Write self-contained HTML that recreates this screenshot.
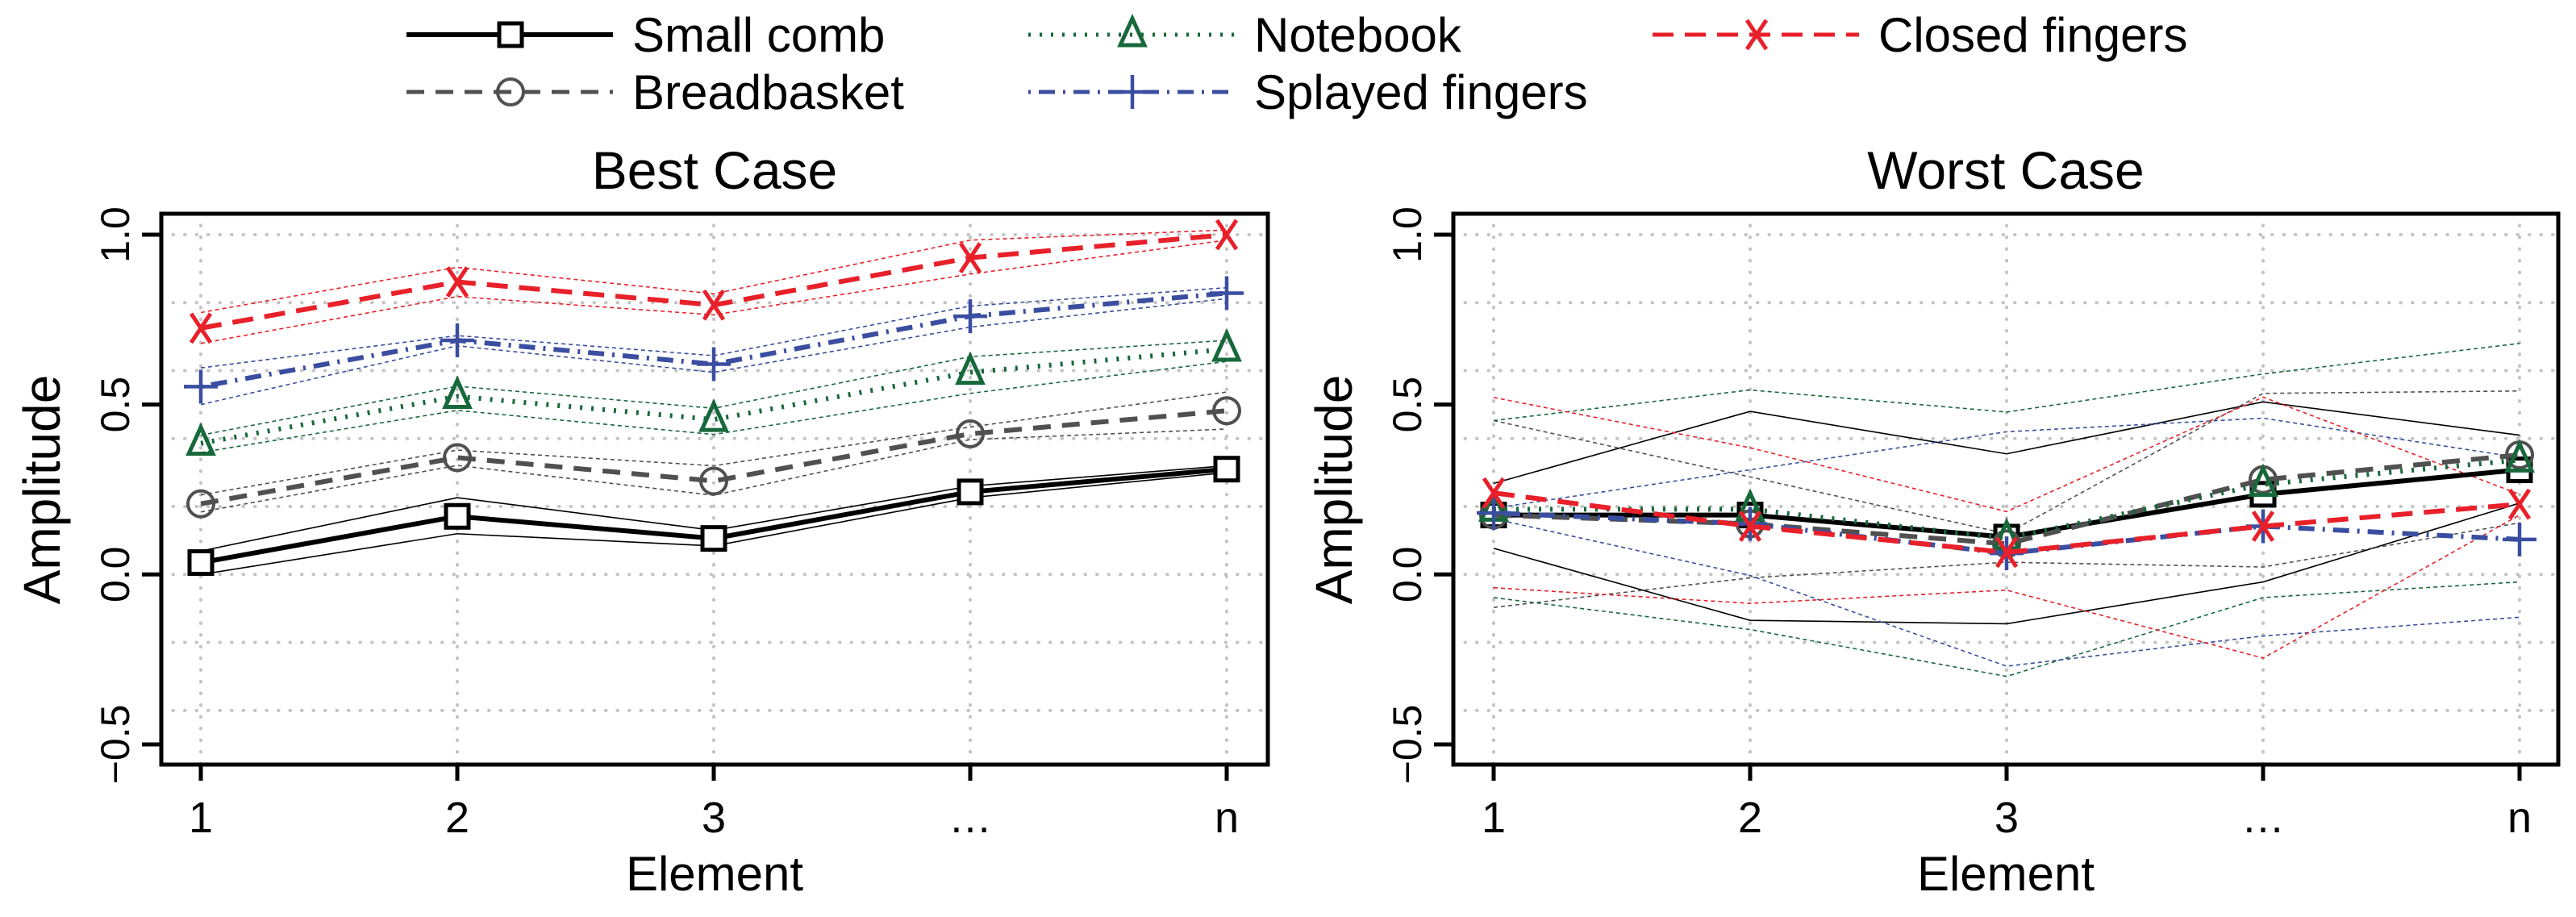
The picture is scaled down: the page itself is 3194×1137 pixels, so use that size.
<!DOCTYPE html>
<html><head><meta charset="utf-8"><style>
html,body{margin:0;padding:0;background:#fff;}
svg{display:block;font-family:"Liberation Sans",Arial,sans-serif;}
</style></head><body>
<svg id="chart" width="3194" height="1137" viewBox="0 0 3194 1137" xmlns="http://www.w3.org/2000/svg">
<g id="legend"></g>
<g id="panelBest"></g>
<g id="panelWorst"></g>
</svg>
<script>
const categories = ["1","2","3","…","n"];
const yTicks = [-0.5, 0.0, 0.5, 1.0];
const yTickLabels = ["\u22120.5","0.0","0.5","1.0"];
const gridValues = [-0.4,-0.2,0,0.2,0.4,0.6,0.8,1.0];
const seriesNames = ["Small comb","Breadbasket","Notebook","Splayed fingers","Closed fingers"];
// Best case
const bestSmall = [0.035,0.171,0.106,0.243,0.31];
const bestSmallHi = [0.069,0.226,0.130,0.26,0.32];
const bestSmallLo = [0.0,0.12,0.084,0.226,0.30];
const bestBread = [0.208,0.344,0.275,0.414,0.482];
const bestBreadHi = [0.234,0.366,0.32,0.434,0.537];
const bestBreadLo = [0.184,0.321,0.233,0.397,0.428];
const bestNote = [0.386,0.524,0.456,0.595,0.663];
const bestNoteHi = [0.41,0.554,0.489,0.641,0.689];
const bestNoteLo = [0.359,0.483,0.412,0.533,0.627];
const bestSplay = [0.553,0.689,0.619,0.76,0.828];
const bestSplayHi = [0.608,0.703,0.644,0.79,0.844];
const bestSplayLo = [0.5,0.673,0.595,0.728,0.812];
const bestClosed = [0.725,0.861,0.793,0.932,1.0];
const bestClosedHi = [0.771,0.904,0.826,0.984,1.014];
const bestClosedLo = [0.68,0.818,0.764,0.884,0.984];
// Worst case
const worstSmall = [0.175,0.175,0.11,0.236,0.308];
const worstSmallHi = [0.268,0.48,0.355,0.508,0.41];
const worstSmallLo = [0.077,-0.135,-0.145,-0.022,0.21];
const worstBread = [0.175,0.149,0.09,0.279,0.352];
const worstBreadHi = [0.453,0.287,0.12,0.533,0.54];
const worstBreadLo = [-0.097,-0.01,0.036,0.022,0.152];
const worstNote = [0.192,0.192,0.106,0.265,0.337];
const worstNoteHi = [0.453,0.543,0.478,0.59,0.68];
const worstNoteLo = [-0.068,-0.162,-0.3,-0.068,-0.022];
const worstSplay = [0.181,0.149,0.062,0.142,0.103];
const worstSplayHi = [0.195,0.308,0.42,0.46,0.344];
const worstSplayLo = [0.164,-0.003,-0.27,-0.181,-0.126];
const worstClosed = [0.24,0.142,0.065,0.142,0.207];
const worstClosedHi = [0.521,0.373,0.185,0.522,0.236];
const worstClosedLo = [-0.039,-0.085,-0.046,-0.246,0.175];

const NS="http://www.w3.org/2000/svg";
const styles=[
 {color:"#000000",dash:"",marker:"square",key:"small-comb"},
 {color:"#505050",dash:"22,14",marker:"circle",key:"breadbasket"},
 {color:"#17683a",dash:"3,11",marker:"triangle",key:"notebook"},
 {color:"#3a4ea0",dash:"3,10,20,10",marker:"plus",key:"splayed-fingers"},
 {color:"#e8202a",dash:"26,14",marker:"cross",key:"closed-fingers"}];
function mk(tag,attrs,parent){const e=document.createElementNS(NS,tag);for(const k in attrs)e.setAttribute(k,attrs[k]);parent.appendChild(e);return e;}
function drawMarker(g,type,x,y,color,name){
 let m;const s=14;
 if(type==="square") m=mk("rect",{x:x-s,y:y-s,width:2*s,height:2*s,fill:"#fff","stroke":color,"stroke-width":5},g);
 else if(type==="circle") m=mk("circle",{cx:x,cy:y,r:s+2,fill:"none",stroke:color,"stroke-width":4},g);
 else if(type==="triangle") m=mk("polygon",{points:`${x},${y-20} ${x-15},${y+13} ${x+15},${y+13}`,fill:"none",stroke:color,"stroke-width":5},g);
 else if(type==="plus") m=mk("path",{d:`M${x-21},${y}H${x+21}M${x},${y-21}V${y+21}`,stroke:color,"stroke-width":4.5,fill:"none"},g);
 else m=mk("path",{d:`M${x-12},${y-18}L${x+12},${y+18}M${x+12},${y-18}L${x-12},${y+18}`,stroke:color,"stroke-width":5,fill:"none"},g);
 
 
}
function drawPanel(g,title,left,right,ticksX,mains,his,los,pname){
 const top=265,bottom=948;
 const yS=v=>291+(1-v)*421.3;
 const xS=i=>ticksX[0]+i*(ticksX[1]-ticksX[0]);
 gridValues.forEach(v=>{const l=mk("line",{x1:left,x2:right,y1:yS(v),y2:yS(v),stroke:"#c4c4c4","stroke-width":4,"stroke-dasharray":"0.5,14","stroke-linecap":"round"},g);
  });
 categories.forEach((c,i)=>{const l=mk("line",{x1:xS(i),x2:xS(i),y1:top,y2:bottom,stroke:"#c4c4c4","stroke-width":4,"stroke-dasharray":"0.5,14","stroke-linecap":"round"},g);
  });
 for(let s=0;s<5;s++){[his[s],los[s]].forEach(arr=>{
  const p=mk("polyline",{points:arr.map((v,i)=>xS(i)+","+yS(v)).join(" "),fill:"none",stroke:styles[s].color,"stroke-width":1.6,"stroke-dasharray":s===0?"":"5,4"},g);
  });}
 for(let s=0;s<5;s++){
  const p=mk("polyline",{points:mains[s].map((v,i)=>xS(i)+","+yS(v)).join(" "),fill:"none",stroke:styles[s].color,"stroke-width":6,"stroke-dasharray":styles[s].dash,"stroke-linecap":"butt"},g);
  
  mains[s].forEach((v,i)=>drawMarker(g,styles[s].marker,xS(i),yS(v),styles[s].color,styles[s].key+'-point'));
 }
 const b=mk("rect",{x:left,y:top,width:right-left,height:bottom-top,fill:"none",stroke:"#000","stroke-width":5},g);
 
 yTicks.forEach((v,i)=>{mk("line",{x1:left-24,x2:left,y1:yS(v),y2:yS(v),stroke:"#000","stroke-width":5},g);
  const t=mk("text",{x:0,y:0,transform:`translate(${left-40},${yS(v)}) rotate(-90)`,"text-anchor":"middle","font-size":50},g);
  t.textContent=yTickLabels[i];});
 categories.forEach((c,i)=>{mk("line",{x1:xS(i),x2:xS(i),y1:bottom,y2:bottom+20,stroke:"#000","stroke-width":5},g);
  const t=mk("text",{x:xS(i),y:1032,"text-anchor":"middle","font-size":54},g);
  t.textContent=c;});
 const tt=mk("text",{x:(left+right)/2,y:234,"text-anchor":"middle","font-size":66},g);tt.textContent=title;
 
 const xt=mk("text",{x:(left+right)/2,y:1104,"text-anchor":"middle","font-size":60},g);xt.textContent="Element";
 
 const yt=mk("text",{x:0,y:0,transform:`translate(${left-126},${yS(0.25)}) rotate(-90)`,"text-anchor":"middle","font-size":64},g);yt.textContent="Amplitude";
 
}
drawPanel(document.getElementById("panelBest"),"Best Case",200,1572,[249,567],
 [bestSmall,bestBread,bestNote,bestSplay,bestClosed],[bestSmallHi,bestBreadHi,bestNoteHi,bestSplayHi,bestClosedHi],[bestSmallLo,bestBreadLo,bestNoteLo,bestSplayLo,bestClosedLo]);
drawPanel(document.getElementById("panelWorst"),"Worst Case",1802,3172,[1852,2170],
 [worstSmall,worstBread,worstNote,worstSplay,worstClosed],[worstSmallHi,worstBreadHi,worstNoteHi,worstSplayHi,worstClosedHi],[worstSmallLo,worstBreadLo,worstNoteLo,worstSplayLo,worstClosedLo]);
const lg=document.getElementById("legend");
const legPos=[[504,43],[504,114],[1275,43],[1275,114],[2049,43]];
for(let s=0;s<5;s++){
 const [x,y]=legPos[s];
 const e=mk("g",{},lg);
 
 
 mk("line",{x1:x,x2:x+256,y1:y,y2:y,stroke:styles[s].color,"stroke-width":s===0?6:5,"stroke-dasharray":styles[s].dash},e);
 drawMarker(e,styles[s].marker,x+129,y,styles[s].color,'legend-marker');
 const t=mk("text",{x:x+280,y:y+21,"font-size":60},e);t.textContent=seriesNames[s];
 
}
</script>
</body></html>
